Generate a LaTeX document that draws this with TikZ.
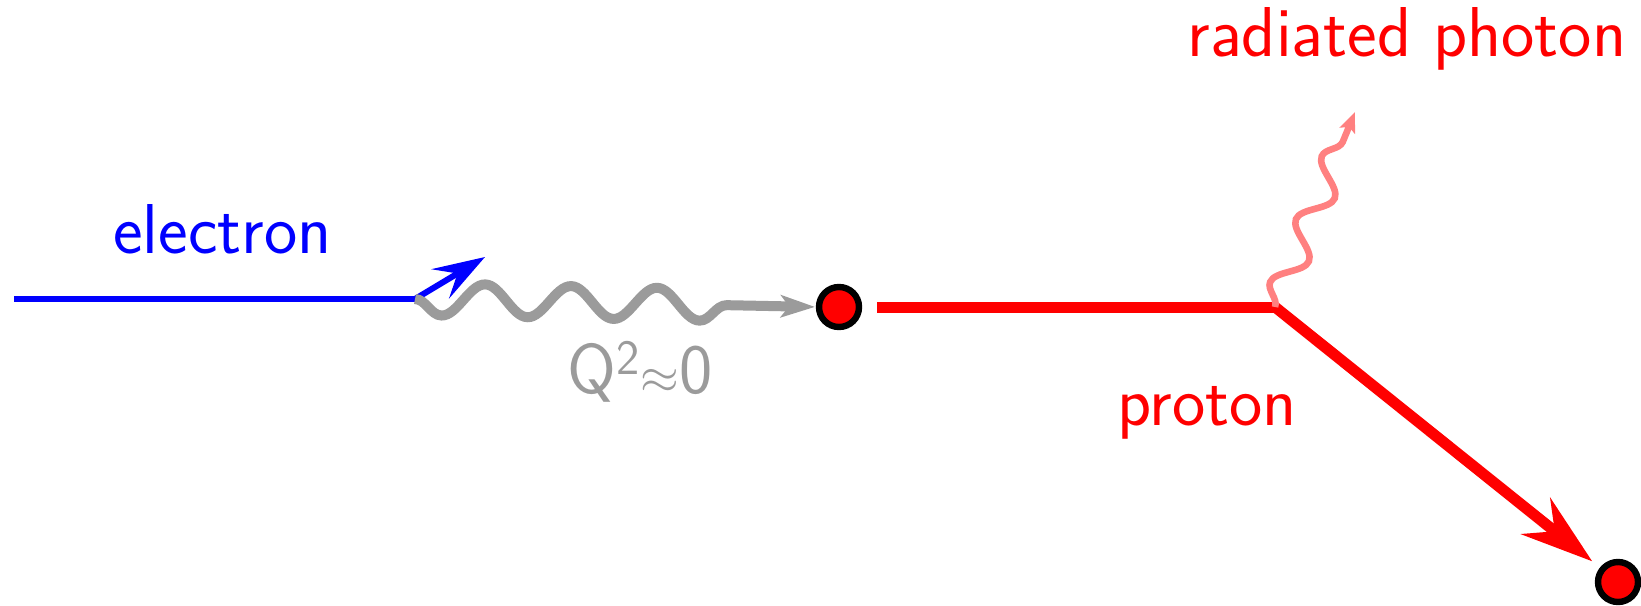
\documentclass[tikz,border=0pt]{standalone}
\usetikzlibrary{arrows.meta,decorations.pathmorphing}
\definecolor{pblue}{RGB}{0,0,255}
\definecolor{pred}{RGB}{255,0,0}
\definecolor{pgray}{RGB}{155,155,155}
\definecolor{ppink}{RGB}{255,128,128}
\begin{document}
\begin{tikzpicture}[x=0.5pt,y=-0.5pt,
  lbl/.style={inner sep=0pt,anchor=base west,font=\sffamily\fontsize{35.3}{42}\selectfont},
  dot/.style={circle,draw=black,fill=pred,line width=3.2pt,minimum size=20pt,inner sep=0pt,outer sep=0pt},
  eline/.style={pblue,line width=3pt},
  pline/.style={pred,line width=5.5pt},
  vphoton/.style={pgray,line width=5pt,decorate,
    decoration={snake,mirror,amplitude=8pt,segment length=43pt,post length=28.5pt}},
  rphoton/.style={ppink,line width=3.3pt,decorate,
    decoration={snake,amplitude=7pt,segment length=34pt,post length=12pt}}
]
\useasboundingbox (0,0) rectangle (1641,605);
% coordinates
\coordinate (e0) at (14,299);
\coordinate (ev) at (415,299);
\coordinate (eout) at (485,257);
\coordinate (pv) at (1275,307);
\coordinate (rp) at (1355,112);
\node[dot] (d1) at (839,307) {};
\node[dot] (d2) at (1618,582) {};
% electron
\draw[eline] (e0) -- (ev);
\draw[eline,-{Stealth[length=26pt,width=17pt,inset=10pt]}] (ev) -- (eout);
% virtual photon
\draw[vphoton,-{Stealth[length=17pt,width=11pt,inset=4pt]},shorten >=2pt] (ev) -- (d1.west);
% proton
\draw[pline,shorten <=9pt] (d1) -- (pv);
\draw[pline,-{Stealth[length=36pt,width=23pt,inset=12pt]},shorten >=6.5pt] (pv) -- (d2);
% radiated photon
\draw[rphoton,-{Stealth[length=10pt,width=8pt,inset=2pt]}] (pv) -- (rp);
% labels
\node[lbl,text=pblue] (tel) at (113,253) {electron};
\node[lbl,text=pgray] (tq) at (567,393) {Q\textsuperscript{2}$\approx$0};
\node[lbl,text=pred] (tpr) at (1117,425) {proton};
\node[lbl,text=pred] (trp) at (1187,56) {radiated photon};
\end{tikzpicture}
\end{document}
